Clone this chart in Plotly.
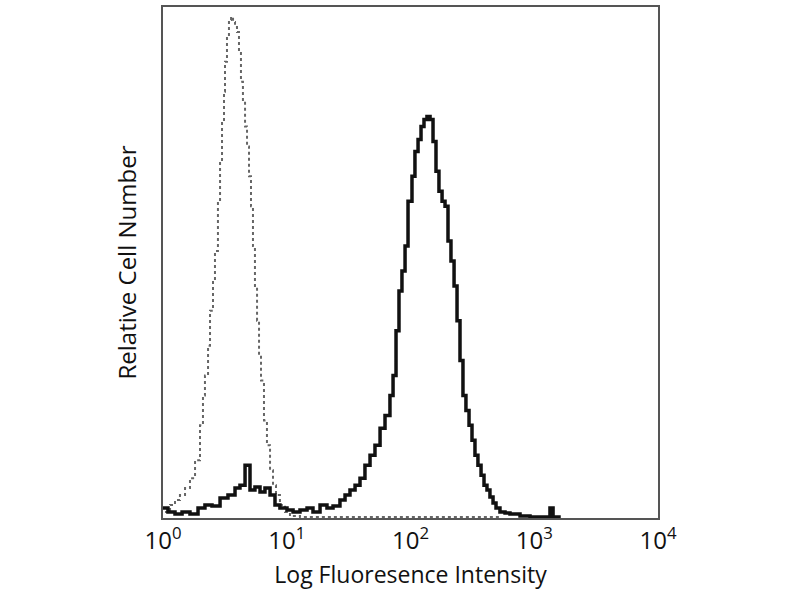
import plotly.graph_objects as go

# Log10 fluorescence positions (decades) and relative cell counts
stained_log = [0.000, 0.040, 0.097, 0.154, 0.218, 0.283, 0.339, 0.396, 0.461, 0.525,
               0.582, 0.622, 0.663, 0.703, 0.743, 0.784, 0.824, 0.865, 0.905, 0.945,
               1.002, 1.051, 1.107, 1.164, 1.212, 1.269, 1.325, 1.374, 1.430, 1.471,
               1.511, 1.552, 1.592, 1.632, 1.673, 1.713, 1.754, 1.794, 1.834, 1.859,
               1.883, 1.907, 1.931, 1.956, 1.980, 2.012, 2.036, 2.061, 2.085, 2.109,
               2.133, 2.158, 2.182, 2.206, 2.230, 2.255, 2.279, 2.303, 2.327, 2.352,
               2.376, 2.400, 2.424, 2.448, 2.473, 2.497, 2.521, 2.545, 2.570, 2.594,
               2.618, 2.642, 2.667, 2.691, 2.723, 2.764, 2.804, 2.844, 2.885, 2.966,
               3.087, 3.127, 3.152, 3.200]
stained_count = [10, 6, 4, 6, 4, 10, 13, 12, 20, 23,
                 30, 33, 53, 28, 31, 26, 30, 23, 13, 10,
                 8, 6, 8, 10, 6, 13, 10, 12, 18, 23,
                 28, 33, 40, 53, 63, 73, 90, 103, 123, 143,
                 188, 228, 248, 273, 318, 343, 368, 380, 393, 400,
                 403, 400, 378, 348, 328, 318, 313, 278, 258, 233,
                 198, 158, 123, 108, 93, 78, 63, 53, 43, 33,
                 28, 21, 15, 10, 6, 5, 4, 4, 2, 1,
                 1, 10, 1, 0]

isotype_log = [0.016, 0.057, 0.097, 0.137, 0.178, 0.218, 0.259, 0.299, 0.323, 0.339,
               0.364, 0.380, 0.404, 0.420, 0.444, 0.461, 0.477, 0.493, 0.501, 0.517,
               0.533, 0.550, 0.566, 0.582, 0.598, 0.614, 0.630, 0.646, 0.663, 0.679,
               0.695, 0.711, 0.727, 0.743, 0.760, 0.776, 0.792, 0.816, 0.840, 0.865,
               0.889, 0.913, 0.945, 0.986, 1.026, 1.107, 2.723]
isotype_count = [6, 13, 18, 23, 30, 40, 58, 93, 123, 143,
                 173, 208, 238, 268, 318, 358, 398, 428, 458, 483,
                 500, 503, 498, 493, 488, 468, 438, 418, 393, 373,
                 343, 313, 273, 233, 198, 163, 138, 98, 73, 48,
                 33, 23, 13, 6, 2, 1, 1]

tick_vals = [1, 10, 100, 1000, 10000]
tick_text = ["10<sup>0</sup>", "10<sup>1</sup>", "10<sup>2</sup>", "10<sup>3</sup>", "10<sup>4</sup>"]

fig = go.Figure()
fig.add_trace(go.Scatter(
    x=[10 ** v for v in isotype_log], y=isotype_count, mode="lines",
    line=dict(color="#666666", width=2, dash="dot", shape="hv"),
    showlegend=False, hoverinfo="skip"))
fig.add_trace(go.Scatter(
    x=[10 ** v for v in stained_log], y=stained_count, mode="lines",
    line=dict(color="#111111", width=3.5, shape="hv"),
    showlegend=False, hoverinfo="skip"))

fig.update_layout(
    width=800, height=600,
    margin=dict(l=163, r=142, t=5, b=82),
    paper_bgcolor="white", plot_bgcolor="white",
    font=dict(family="Open Sans, DejaVu Sans, sans-serif", color="#111111"),
    xaxis=dict(type="log", range=[0, 4], tickvals=tick_vals, ticktext=tick_text,
               tickfont=dict(size=24), ticks="", showgrid=False, zeroline=False,
               showline=True, mirror=True, linecolor="#555555", linewidth=2,
               title=dict(text="Log Fluoresence Intensity", font=dict(size=23), standoff=12)),
    yaxis=dict(range=[0, 513], showticklabels=False, ticks="", showgrid=False,
               zeroline=False, showline=True, mirror=True, linecolor="#555555", linewidth=2,
               title=dict(text="Relative Cell Number", font=dict(size=24), standoff=18)),
)

fig.write_html("out.html", post_script="document.body.style.margin='0';",
               config={"displayModeBar": False})
